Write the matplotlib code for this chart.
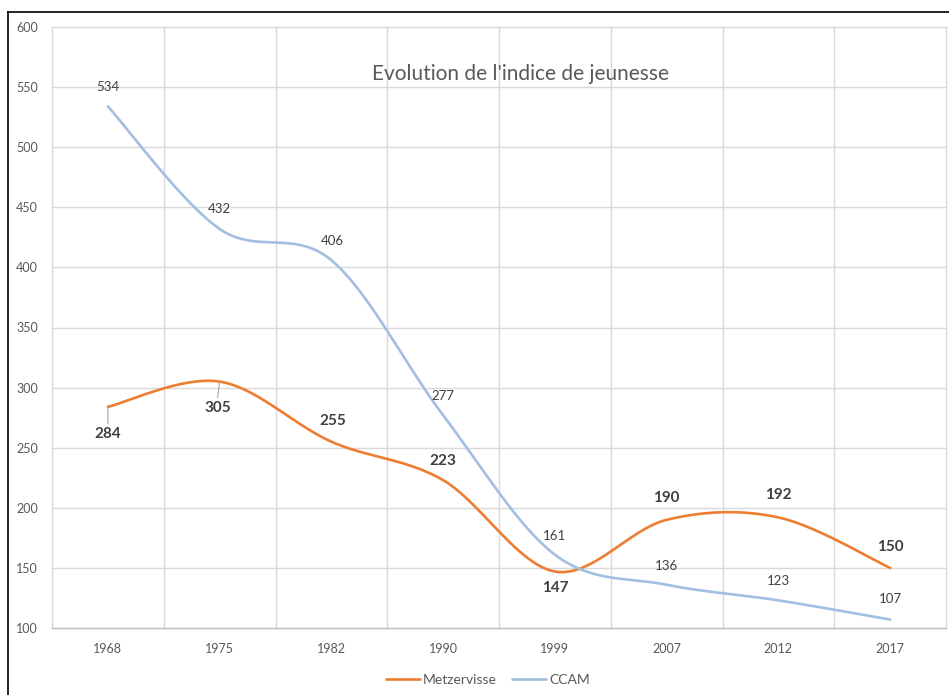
import numpy as np
import matplotlib
matplotlib.use('Agg')
import matplotlib.pyplot as plt
from matplotlib.lines import Line2D

years = ['1968', '1975', '1982', '1990', '1999', '2007', '2012', '2017']
metzervisse = [284, 305, 255, 223, 147, 190, 192, 150]
ccam = [534, 432, 406, 277, 161, 136, 123, 107]
y_ticks = [100, 150, 200, 250, 300, 350, 400, 450, 500, 550, 600]
title = "Evolution de l'indice de jeunesse"

ORANGE = '#ED7D31'
BLUE = '#A2BEE0'
GRID = '#D9D9D9'
TXT = '#595959'
FONT = 'Lato'

# label offsets in pixels (dx, dy), style only
metz_off = [(0, -27), (-2, -26), (1, 21), (0, 19), (0, -16), (0, 22), (0, 22), (0, 21)]
ccam_off = [(0, 19), (0, 20), (1, 19), (0, 19), (0, 19), (0, 19), (0, 19), (0, 21)]


def smooth(vals, n=40):
    y = np.asarray(vals, float)
    x = np.arange(len(y), dtype=float)
    P = np.column_stack([x, y])
    T = np.zeros_like(P)
    T[1:-1] = (P[2:] - P[:-2]) / 2
    T[0] = (P[1] - P[0]) / 2
    T[-1] = (P[-1] - P[-2]) / 2
    t = np.linspace(0, 1, n)[:, None]
    out = []
    for i in range(len(P) - 1):
        c0 = P[i]; c1 = P[i] + T[i] / 3; c2 = P[i + 1] - T[i + 1] / 3; c3 = P[i + 1]
        seg = (1 - t) ** 3 * c0 + 3 * (1 - t) ** 2 * t * c1 + 3 * (1 - t) * t ** 2 * c2 + t ** 3 * c3
        out.append(seg if i == 0 else seg[1:])
    out = np.vstack(out)
    return out[:, 0], out[:, 1]


W, H = 949, 695
fig = plt.figure(figsize=(W / 100, H / 100), dpi=100)
ax = fig.add_axes([52 / W, 1 - 628 / H, (946 - 52) / W, (628 - 27) / H])

x = np.arange(len(years))
ax.set_xlim(-0.5, len(years) - 0.5)
ax.set_ylim(y_ticks[0], y_ticks[-1])

# grid
for yv in y_ticks:
    ax.axhline(yv, color=GRID, lw=1, zorder=0, clip_on=False)
for xv in np.arange(-0.5, len(years), 1.0):
    ax.axvline(xv, color=GRID, lw=1, zorder=0, clip_on=False)
for s in ['left', 'right', 'top']:
    ax.spines[s].set_visible(False)
ax.spines['bottom'].set_color('#BFBFBF')
ax.spines['bottom'].set_linewidth(1)

ax.set_xticks(x)
ax.set_xticklabels(years)
ax.set_yticks(y_ticks)
ax.tick_params(axis='both', length=0, colors=TXT, labelsize=9)
ax.tick_params(axis='y', pad=10)
ax.tick_params(axis='x', pad=11)
for lab in ax.get_xticklabels() + ax.get_yticklabels():
    lab.set_fontfamily(FONT)

mx, my = smooth(metzervisse)
cx, cy = smooth(ccam)
l1, = ax.plot(mx, my, color=ORANGE, lw=1.9, solid_capstyle='round', zorder=3, label='Metzervisse')
l2, = ax.plot(cx, cy, color=BLUE, lw=1.9, solid_capstyle='round', zorder=3, label='CCAM')

pt = 0.72
for i, v in enumerate(ccam):
    dx, dy = ccam_off[i]
    ax.annotate(str(v), (x[i], v), xytext=(dx * pt, dy * pt), textcoords='offset points',
                ha='center', va='center', fontsize=9.5, color='#404040', family=FONT, zorder=5)
for i, v in enumerate(metzervisse):
    dx, dy = metz_off[i]
    ax.annotate(str(v), (x[i], v), xytext=(dx * pt, dy * pt), textcoords='offset points',
                ha='center', va='center', fontsize=11, fontweight='bold', color='#404040',
                family=FONT, zorder=5)
# leader lines for the two labels placed below
for i in [0, 1]:
    v = metzervisse[i]
    dx, dy = metz_off[i]
    ax.annotate('', (x[i], v), xytext=(dx * pt, (dy + 10) * pt), textcoords='offset points',
                arrowprops=dict(arrowstyle='-', color='#A6A6A6', lw=0.8, shrinkA=0, shrinkB=0))

fig.text(521 / W, 1 - 74 / H, title, ha='center', va='center', fontsize=15,
         color=TXT, family=FONT)

fig.legend(handles=[l1, l2], loc='center', bbox_to_anchor=(488 / W, 1 - 680 / H),
           ncol=2, frameon=False, handlelength=2.4, columnspacing=1.1,
           handletextpad=0.25, labelcolor=TXT, prop={'family': FONT, 'size': 10})

# outer frame (top and left edges)
fig.add_artist(Line2D([8 / W, 1], [1 - 12 / H, 1 - 12 / H], transform=fig.transFigure,
                      color='black', lw=1.2))
fig.add_artist(Line2D([8 / W, 8 / W], [0, 1 - 12 / H], transform=fig.transFigure,
                      color='black', lw=1.2))

fig.savefig('out.png', dpi=100, facecolor='white')
